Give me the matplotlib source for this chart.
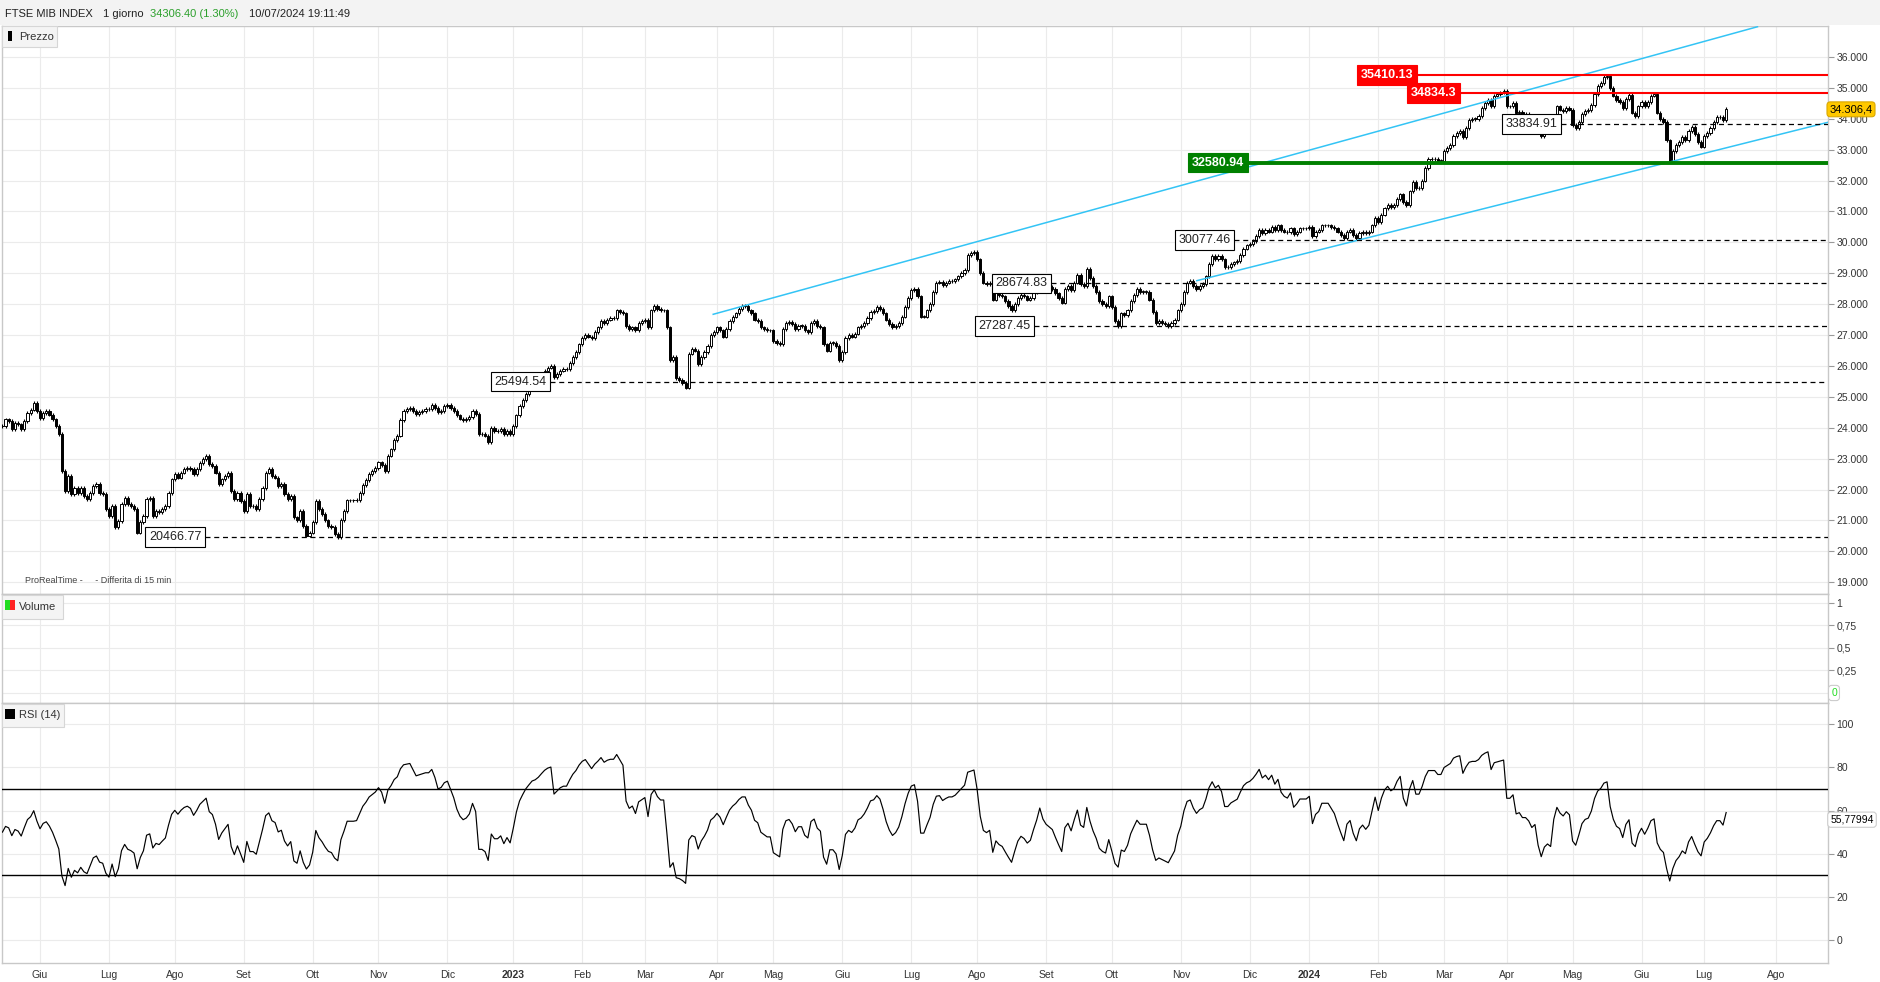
import matplotlib
matplotlib.use("Agg")
import matplotlib.pyplot as plt
from matplotlib.patches import Rectangle
from matplotlib.ticker import FixedLocator, FuncFormatter
import numpy as np
import pandas as pd

plt.rcParams["font.family"] = ["Liberation Sans", "DejaVu Sans"]

W, H = 1880, 982

# trading calendar (Borsa Italiana), daily bars
CAL_START = "2022-05-16"
CAL_END = "2024-08-30"
HOLIDAYS = [
    "2022-08-15", "2022-12-26", "2023-04-07", "2023-04-10", "2023-05-01",
    "2023-08-15", "2023-12-25", "2023-12-26", "2024-01-01", "2024-03-29",
    "2024-04-01", "2024-05-01", "2024-08-15",
]

# daily closes, one list per month
C_2022_05 = [24050, 24270, 24220, 23950, 24160, 24110, 23950, 24220, 24490, 24590, 24810, 24540]
C_2022_06 = [24320, 24490, 24540, 24430, 24270, 24050, 23790, 22600, 21960, 22440, 21850, 22060,
             21900, 22060, 21800, 21690, 21900, 22120, 22170, 21900, 21850, 21370]
C_2022_07 = [21150, 21470, 20780, 20990, 21530, 21740, 21530, 21470, 21370, 20610, 20940, 21150,
             21690, 21740, 21150, 21310, 21260, 21370, 21470, 21900, 22330]
C_2022_08 = [22500, 22390, 22550, 22660, 22710, 22660, 22500, 22660, 22870, 22980, 23090, 22820,
             22760, 22550, 22170, 22330, 22440, 22550, 21960, 21690, 21900, 21630]
C_2022_09 = [21310, 21850, 21470, 21470, 21370, 21690, 22060, 22550, 22660, 22440, 22390, 22120,
             22170, 21850, 21690, 21800, 21100, 21000, 21310, 20830, 20510, 20610]
C_2022_10 = [20940, 21640, 21370, 21210, 21000, 20830, 20780, 20560, 20450, 21020, 21300, 21650,
             21650, 21650, 21670, 21900, 22150, 22300, 22500, 22600, 22700]
C_2022_11 = [22880, 22800, 22600, 23100, 23300, 23600, 23750, 24250, 24550, 24600, 24650, 24550,
             24450, 24500, 24550, 24600, 24600, 24750, 24650, 24500, 24550, 24700]
C_2022_12 = [24750, 24650, 24550, 24400, 24300, 24250, 24280, 24350, 24550, 24450, 23800, 23800,
             23750, 23550, 24000, 23900, 23900, 23950, 23800, 23900, 23800]
C_2023_01 = [24050, 24400, 24700, 24900, 25100, 25250, 25400, 25450, 25550, 25700, 25850, 25950,
             26000, 25650, 25750, 25850, 25900, 25900, 26100, 26300, 26450, 26700]
C_2023_02 = [26900, 27000, 26950, 26900, 27100, 27250, 27450, 27400, 27500, 27550, 27550, 27800,
             27750, 27700, 27300, 27200, 27250, 27150, 27400, 27450]
C_2023_03 = [27500, 27250, 27800, 27950, 27850, 27800, 27800, 27250, 26200, 26300, 25600, 25550,
             25450, 25300, 26400, 26550, 26500, 26050, 26300, 26450, 26650, 27000, 27100]
C_2023_04 = [27250, 27150, 26950, 27200, 27450, 27600, 27700, 27850, 27950, 27950, 27800, 27700,
             27500, 27450, 27250, 27200, 27150, 27150]
C_2023_05 = [26800, 26750, 26700, 27200, 27400, 27430, 27350, 27200, 27300, 27300, 27150, 27100,
             27400, 27450, 27300, 27250, 26700, 26500, 26750, 26750, 26650, 26200]
C_2023_06 = [26450, 26900, 27000, 26950, 27050, 27250, 27300, 27400, 27550, 27750, 27780, 27900,
             27850, 27700, 27500, 27350, 27250, 27300, 27400, 27600, 27900, 28200]
C_2023_07 = [28450, 28500, 28250, 27600, 27600, 27800, 28000, 28400, 28700, 28720, 28630, 28700,
             28750, 28750, 28800, 28900, 29000, 29100, 29600, 29650, 29700]
C_2023_08 = [29450, 29000, 28700, 28650, 28700, 28150, 28400, 28300, 28250, 28100, 27950, 27800,
             28000, 28200, 28300, 28250, 28150, 28200, 28400, 28600, 28900, 28700]
C_2023_09 = [28600, 28550, 28500, 28350, 28200, 28050, 28500, 28600, 28450, 28700, 28950, 28650,
             28600, 29150, 28850, 28600, 28400, 28100, 28000, 27950, 28250]
C_2023_10 = [27900, 27450, 27300, 27700, 27650, 27800, 28100, 28300, 28500, 28400, 28400, 28400,
             28150, 27750, 27400, 27450, 27400, 27350, 27300, 27400, 27500, 27800]
C_2023_11 = [28000, 28400, 28700, 28750, 28600, 28500, 28600, 28650, 28900, 29300, 29550, 29450,
             29550, 29450, 29200, 29200, 29300, 29350, 29400, 29600, 29800, 29900]
C_2023_12 = [29950, 30050, 30200, 30400, 30300, 30400, 30350, 30500, 30400, 30550, 30400, 30350,
             30330, 30450, 30280, 30350, 30450, 30450, 30450]
C_2024_01 = [30500, 30200, 30350, 30400, 30550, 30550, 30550, 30500, 30450, 30350, 30250, 30150,
             30350, 30400, 30250, 30150, 30300, 30350, 30300, 30350, 30550, 30800]
C_2024_02 = [30650, 30900, 31100, 31200, 31150, 31200, 31400, 31550, 31300, 31200, 31650, 31950,
             31750, 31750, 32000, 32400, 32700, 32700, 32700, 32650, 32650]
C_2024_03 = [32950, 33050, 33150, 33450, 33550, 33600, 33400, 33700, 33950, 34000, 34000, 34100,
             34350, 34500, 34600, 34400, 34750, 34800, 34850, 34900]
C_2024_04 = [34400, 34400, 34500, 34200, 34230, 34150, 34150, 34100, 34000, 34050, 33700, 33450,
             33600, 33650, 33600, 34100, 34400, 34300, 34250, 34350, 34300]
C_2024_05 = [33800, 33700, 33900, 34150, 34250, 34280, 34450, 34800, 35050, 35150, 35350, 35400,
             35000, 34750, 34600, 34550, 34350, 34650, 34770, 34200, 34100, 34400]
C_2024_06 = [34550, 34400, 34550, 34750, 34800, 34200, 34000, 33900, 33300, 32650, 32950, 33150,
             33250, 33400, 33300, 33600, 33750, 33500, 33250, 33100]
C_2024_07 = [33450, 33550, 33700, 33900, 34050, 34050, 33950, 34306.4]

CLOSES = np.array(
    C_2022_05 + C_2022_06 + C_2022_07 + C_2022_08 + C_2022_09 + C_2022_10 + C_2022_11 + C_2022_12
    + C_2023_01 + C_2023_02 + C_2023_03 + C_2023_04 + C_2023_05 + C_2023_06 + C_2023_07
    + C_2023_08 + C_2023_09 + C_2023_10 + C_2023_11 + C_2023_12
    + C_2024_01 + C_2024_02 + C_2024_03 + C_2024_04 + C_2024_05 + C_2024_06 + C_2024_07,
    dtype=float,
)

LAST_PRICE_LABEL = "34.306,4"
RSI_LAST_LABEL = "55,77994"
RSI_LAST = 55.77994

# drawn levels: (price, label, bar index where the line starts)
DASHED_LEVELS = [20466.77, 25494.54, 27287.45, 28674.83, 30077.46, 33834.91]
DASHED_LABELS = ["20466.77", "25494.54", "27287.45", "28674.83", "30077.46", "33834.91"]
DASHED_START = [64.6, 174.7, 329.2, 334.6, 393.0, 497.3]
RED_LEVELS = [35410.13, 34834.3]
RED_LABELS = ["35410.13", "34834.3"]
RED_START = [451.4, 465.1]
GREEN_LEVEL = 32580.94
GREEN_LABEL = "32580.94"
GREEN_START = 397.4

# trend channel (bar index, price)
UPPER_X = [226.8, 560.0]
UPPER_Y = [27673, 36979]
LOWER_X = [381.1, 582.5]
LOWER_Y = [28761, 33887]

MONTHS_IT = ["Gen", "Feb", "Mar", "Apr", "Mag", "Giu", "Lug", "Ago", "Set", "Ott", "Nov", "Dic"]

GRID = "#ebebeb"
SPINE = "#c8c8c8"
TXT = "#333333"


def fig_rect(x0, y0, x1, y1):
    return [x0 / W, 1 - y1 / H, (x1 - x0) / W, (y1 - y0) / H]


def fp(x, y):
    return x / W, 1 - y / H


def trading_days():
    days = pd.bdate_range(CAL_START, CAL_END)
    return days[~days.isin(pd.to_datetime(HOLIDAYS))]


def compute_rsi(closes, n=14, seed_move=150.0):
    # Wilder smoothing; history before the first bar is not on the chart,
    # so start from a neutral state (equal average gain and loss)
    ag, al = seed_move, seed_move
    out = [50.0]
    for d in np.diff(closes):
        ag = (ag * (n - 1) + max(d, 0)) / n
        al = (al * (n - 1) + max(-d, 0)) / n
        out.append(100 - 100 / (1 + ag / al))
    return np.array(out)


def style_ax(ax):
    for side in ["top", "bottom", "left", "right"]:
        ax.spines[side].set_color(SPINE)
        ax.spines[side].set_linewidth(1)
    ax.yaxis.tick_right()
    ax.tick_params(axis="y", which="both", direction="out", length=4, width=0.8,
                   color="#999999", labelcolor=TXT, labelsize=7.5, pad=2, left=False)
    ax.tick_params(axis="x", length=0, labelbottom=False)
    ax.grid(True, color=GRID, linewidth=0.8)
    ax.set_axisbelow(True)


def panel_tag(fig, x1, y0, y1, text, colors, marker_w=10):
    fig.patches.append(Rectangle(fp(2, y1), (x1 - 2) / W, (y1 - y0) / H, transform=fig.transFigure,
                                 facecolor="#f4f4f4", edgecolor="#d6d6d6", linewidth=0.8, zorder=20))
    mw = marker_w / len(colors)
    for k, c in enumerate(colors):
        fig.patches.append(Rectangle(fp(5 + (10 - marker_w) / 2 + k * mw, y0 + 15), mw / W, 10 / H,
                                     transform=fig.transFigure, facecolor=c, edgecolor="none", zorder=21))
    fig.text(*fp(19, (y0 + y1) / 2), text, fontsize=8, color=TXT, va="center", ha="left", zorder=22)


def main():
    days = trading_days()
    n = len(CLOSES)
    idx = np.arange(n)

    fig = plt.figure(figsize=(W / 100, H / 100), dpi=100)
    fig.patch.set_facecolor("white")

    # header band
    fig.patches.append(Rectangle((0, 1 - 25 / H), 1, 25 / H, transform=fig.transFigure,
                                 facecolor="#f3f3f3", edgecolor="none", zorder=0))
    hdr = dict(fontsize=8, va="center")
    fig.text(*fp(5, 14), "FTSE MIB INDEX", color="#222222", **hdr)
    fig.text(*fp(103, 14), "1 giorno", color="#222222", **hdr)
    fig.text(*fp(150, 14), "34306.40 (1.30%)", color="#2ca02c", **hdr)
    fig.text(*fp(249, 14), "10/07/2024 19:11:49", color="#222222", **hdr)

    ax_p = fig.add_axes(fig_rect(2, 26, 1828, 594))
    ax_v = fig.add_axes(fig_rect(2, 594, 1828, 703), sharex=ax_p)
    ax_r = fig.add_axes(fig_rect(2, 703, 1828, 963), sharex=ax_p)
    for ax in (ax_p, ax_v, ax_r):
        style_ax(ax)
    x_right = 582.5
    ax_p.set_xlim(-0.13, x_right)

    # month ticks at the first trading day of each month
    month_first = pd.Series(np.arange(len(days)), index=days).groupby([days.year, days.month]).first()
    tick_pos, tick_lab, tick_bold = [], [], []
    for (yr, mo), pos in month_first.items():
        if pos == 0:
            continue
        tick_pos.append(pos)
        tick_lab.append(str(yr) if mo == 1 else MONTHS_IT[mo - 1])
        tick_bold.append(mo == 1)
    ax_r.xaxis.set_major_locator(FixedLocator(tick_pos))
    ax_r.set_xticklabels(tick_lab)
    ax_r.tick_params(axis="x", labelbottom=True, labelsize=7.5, labelcolor=TXT, pad=5)
    for lab, b in zip(ax_r.get_xticklabels(), tick_bold):
        if b:
            lab.set_fontweight("bold")

    # --- price panel
    opens = np.r_[CLOSES[0], CLOSES[:-1]]
    up = CLOSES >= opens
    lo = np.minimum(opens, CLOSES)
    hi = np.maximum(opens, CLOSES)
    wick = 60
    ax_p.vlines(idx, lo - wick, hi + wick, color="black", linewidth=0.8, zorder=3)
    ax_p.bar(idx, np.maximum(hi - lo, 12), bottom=lo, width=0.7,
             color=["white" if u else "black" for u in up], edgecolor="black", linewidth=0.7, zorder=4)

    ax_p.set_ylim(18621, 37003)
    price_ticks = list(range(19000, 36001, 1000))
    ax_p.yaxis.set_major_locator(FixedLocator(price_ticks))
    ax_p.yaxis.set_major_formatter(FuncFormatter(lambda v, _: f"{v:,.0f}".replace(",", ".")))

    ax_p.plot(UPPER_X, UPPER_Y, color="#33c4f5", linewidth=1.1, zorder=5)
    ax_p.plot(LOWER_X, LOWER_Y, color="#33c4f5", linewidth=1.1, zorder=5)

    box_kw = dict(fontsize=9, ha="right", va="center", zorder=8)
    for lvl, lab, x0 in zip(DASHED_LEVELS, DASHED_LABELS, DASHED_START):
        ax_p.hlines(lvl, x0, x_right, colors="black", linestyles=(0, (4, 3)), linewidth=0.9, zorder=5)
        ax_p.text(x0 - 1.1, lvl, lab, color="#222222",
                  bbox=dict(boxstyle="square,pad=0.3", fc="white", ec="black", lw=0.8), **box_kw)
    for lvl, lab, x0 in zip(RED_LEVELS, RED_LABELS, RED_START):
        ax_p.hlines(lvl, x0, x_right, colors="#ff0000", linewidth=1.5, zorder=6)
        ax_p.text(x0 - 1.1, lvl, lab, color="white", fontweight="bold",
                  bbox=dict(boxstyle="square,pad=0.3", fc="#ff0000", ec="#ff0000", lw=0.8), **box_kw)
    ax_p.hlines(GREEN_LEVEL, GREEN_START, x_right, colors="#008000", linewidth=2.8, zorder=6)
    ax_p.text(GREEN_START - 1.1, GREEN_LEVEL, GREEN_LABEL, color="white", fontweight="bold",
              bbox=dict(boxstyle="square,pad=0.3", fc="#008000", ec="#008000", lw=0.8), **box_kw)

    ax_p.text(1 + 23 / 1826, CLOSES[-1], LAST_PRICE_LABEL,
              transform=ax_p.get_yaxis_transform(), ha="center", va="center", fontsize=8,
              color="black", clip_on=False, zorder=10,
              bbox=dict(boxstyle="round,pad=0.22,rounding_size=0.3", fc="#ffc800", ec="#d9a800", lw=0.8))
    ax_p.text(23 / 1826, 0.024, "ProRealTime -     - Differita di 15 min", transform=ax_p.transAxes,
              fontsize=6.5, color="#444444", ha="left", va="center")

    # --- volume panel (no data shown)
    ax_v.set_ylim(-0.111, 1.096)
    ax_v.yaxis.set_major_locator(FixedLocator([0, 0.25, 0.5, 0.75, 1]))
    ax_v.yaxis.set_major_formatter(FuncFormatter(
        lambda v, _: "" if v == 0 else f"{v:g}".replace(".", ",")))
    ax_v.text(1 + 6 / 1826, 0, "0", transform=ax_v.get_yaxis_transform(), ha="center", va="center",
              fontsize=7.5, color="#22dd22", clip_on=False, zorder=10,
              bbox=dict(boxstyle="round,pad=0.25,rounding_size=0.3", fc="white", ec="#cccccc", lw=0.8))

    # --- RSI panel
    rsi = compute_rsi(CLOSES)
    ax_r.plot(idx, rsi, color="black", linewidth=0.85, zorder=4)
    ax_r.axhline(70, color="black", linewidth=1.0, zorder=3)
    ax_r.axhline(30, color="black", linewidth=1.0, zorder=3)
    ax_r.set_ylim(-10.7, 109.9)
    ax_r.yaxis.set_major_locator(FixedLocator([0, 20, 40, 60, 80, 100]))
    ax_r.yaxis.set_major_formatter(FuncFormatter(lambda v, _: f"{v:.0f}"))
    ax_r.text(1 + 24 / 1826, RSI_LAST, RSI_LAST_LABEL, transform=ax_r.get_yaxis_transform(),
              ha="center", va="center", fontsize=7.5, color="black", clip_on=False, zorder=10,
              bbox=dict(boxstyle="round,pad=0.25,rounding_size=0.3", fc="white", ec="#cccccc", lw=0.8))

    panel_tag(fig, 57, 26, 47, "Prezzo", ["black"], marker_w=4)
    panel_tag(fig, 63, 595, 619, "Volume", ["#22dd22", "#ff2222"])
    panel_tag(fig, 64, 704, 727, "RSI (14)", ["black"])

    fig.savefig("out.png", dpi=100)


if __name__ == "__main__":
    main()
